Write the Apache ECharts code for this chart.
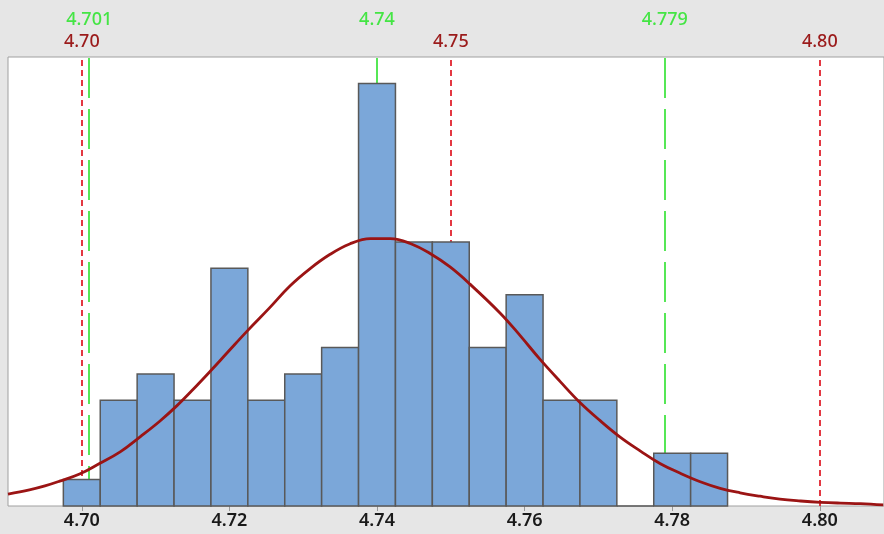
<!DOCTYPE html>
<html>
<head>
<meta charset="utf-8">
<script src="https://cdn.jsdelivr.net/npm/echarts@6/dist/echarts.min.js"></script>
<style>
  html, body { margin: 0; padding: 0; background: #e6e6e6; }
  #chart { width: 884px; height: 534px; }
</style>
</head>
<body>
<div id="chart"></div>
<script>
// histogram bins (centre of each bin) and counts
var binWidth = 0.005;
var binCenters = [4.700, 4.705, 4.710, 4.715, 4.720, 4.725, 4.730, 4.735, 4.740,
                  4.745, 4.750, 4.755, 4.760, 4.765, 4.770, 4.775, 4.780, 4.785];
var binCounts = [1, 4, 5, 4, 9, 4, 5, 6, 16, 10, 10, 6, 8, 4, 4, 0, 2, 2];

// fitted curve
var curveX = [4.6900, 4.6929, 4.6950, 4.6970, 4.6997, 4.7024, 4.7052, 4.7079, 4.7106,
              4.7129, 4.7151, 4.7174, 4.7197, 4.7224, 4.7255, 4.7282, 4.7309, 4.7336,
              4.7363, 4.7391, 4.7418, 4.7445, 4.7472, 4.7499, 4.7526, 4.7567, 4.7594,
              4.7621, 4.7648, 4.7675, 4.7702, 4.7729, 4.7757, 4.7784, 4.7811, 4.7838,
              4.7865, 4.7892, 4.7919, 4.7946, 4.7974, 4.8001, 4.8028, 4.8055, 4.8086];
var curveY = [0.45, 0.61, 0.76, 0.94, 1.21, 1.61, 2.05, 2.62, 3.22,
              3.80, 4.42, 5.10, 5.80, 6.62, 7.52, 8.33, 8.98, 9.52,
              9.92, 10.12, 10.12, 9.94, 9.56, 9.05, 8.40, 7.30, 6.45,
              5.55, 4.72, 3.92, 3.24, 2.62, 2.08, 1.60, 1.24, 0.92,
              0.67, 0.50, 0.37, 0.26, 0.19, 0.14, 0.11, 0.09, 0.04];

// spec limits (red) and reference lines (green)
var specLines = [4.70, 4.75, 4.80];
var specLabels = ['4.70', '4.75', '4.80'];
var refLines = [4.701, 4.74, 4.779];
var refLabels = ['4.701', '4.74', '4.779'];

var xTicks = [4.70, 4.72, 4.74, 4.76, 4.78, 4.80];

var chart = echarts.init(document.getElementById('chart'));

var histData = [];
for (var i = 0; i < binCenters.length; i++) {
    histData.push([binCenters[i], binCounts[i]]);
}
var curveData = [];
for (var j = 0; j < curveX.length; j++) {
    curveData.push([curveX[j], curveY[j]]);
}

var markData = [];
for (var k = 0; k < specLines.length; k++) {
    markData.push({
        xAxis: specLines[k],
        lineStyle: { color: '#e0232e', type: [6, 4], width: 1.8 },
        label: { formatter: specLabels[k], color: '#9b1b1b', distance: 6 }
    });
}
for (var m = 0; m < refLines.length; m++) {
    markData.push({
        xAxis: refLines[m],
        lineStyle: { color: '#44e544', type: [40, 11], width: 1.8 },
        label: { formatter: refLabels[m], color: '#44e544', distance: 28 }
    });
}

chart.setOption({
    backgroundColor: '#e6e6e6',
    animation: false,
    grid: {
        left: 8,
        top: 57,
        right: -2,
        bottom: 28,
        show: true,
        backgroundColor: '#ffffff',
        borderColor: '#a0a0a0',
        borderWidth: 1
    },
    xAxis: {
        type: 'value',
        min: 4.69,
        max: 4.8087,
        axisLine: { show: false },
        splitLine: { show: false },
        axisTick: {
            show: true,
            customValues: xTicks,
            length: 5,
            lineStyle: { color: '#999999' }
        },
        axisLabel: {
            customValues: xTicks,
            formatter: function (v) { return v.toFixed(2); },
            color: '#1a1a1a',
            fontSize: 18,
            fontWeight: 600,
            fontFamily: 'Noto Sans',
            margin: 6
        }
    },
    yAxis: {
        type: 'value',
        min: 0,
        max: 17,
        show: false
    },
    series: [
        {
            // reference lines sit under the bars
            type: 'line',
            data: [],
            z: 1,
            silent: true,
            markLine: {
                z: 1,
                precision: 4,
                silent: true,
                symbol: 'none',
                animation: false,
                label: {
                    position: 'end',
                    fontSize: 18,
                    fontWeight: 500,
                    fontFamily: 'Noto Sans'
                },
                data: markData
            }
        },
        {
            type: 'custom',
            z: 2,
            data: histData,
            renderItem: function (params, api) {
                var x = api.value(0);
                var c = api.value(1);
                var p0 = api.coord([x - binWidth / 2, c]);
                var p1 = api.coord([x + binWidth / 2, 0]);
                return {
                    type: 'rect',
                    shape: { x: p0[0], y: p0[1], width: p1[0] - p0[0], height: p1[1] - p0[1] },
                    style: { fill: '#7ba7d9', stroke: '#595959', lineWidth: 1.5 }
                };
            }
        },
        {
            type: 'line',
            z: 3,
            data: curveData,
            smooth: 0.4,
            showSymbol: false,
            lineStyle: { color: '#9b1414', width: 2.8 }
        }
    ]
});
</script>
</body>
</html>
